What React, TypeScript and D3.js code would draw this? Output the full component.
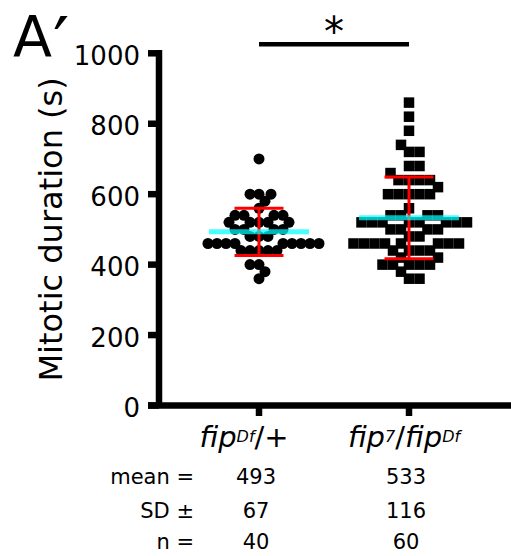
import React from "react";
import * as d3 from "d3";

// groups on the x axis
const categories = ["fipDf/+", "fip7/fipDf"];

// mitotic durations (s)
const fipDfHet = [
  360, 380, 400, 400, 440, 440, 440, 440, 440, 460, 460, 460, 460, 460, 460,
  460, 460, 460, 480, 480, 480, 500, 500, 500, 500, 520, 520, 520, 520, 520,
  540, 540, 540, 540, 560, 580, 600, 600, 600, 700,
];
const fip7FipDf = [
  360, 360, 380, 400, 400, 400, 400, 400, 420, 420, 440, 440, 440, 440, 460,
  460, 460, 460, 460, 460, 460, 460, 480, 480, 500, 500, 500, 500, 520, 520,
  520, 520, 520, 520, 520, 520, 540, 540, 540, 540, 560, 600, 600, 600, 600,
  600, 620, 640, 640, 640, 640, 660, 680, 680, 720, 720, 740, 780, 820, 860,
];

const means = [493, 533];
const sds = [67, 116];
const ns = [40, 60];
const yTicks = [0, 200, 400, 600, 800, 1000];
const statLabels = ["mean =", "SD \u00b1", "n ="];

// label pieces: [text, kind]
const labelParts: [string, string][][] = [
  [["fip", "i"], ["Df", "sup"], ["/+", "n"]],
  [["fip", "i"], ["7", "sup"], ["/", "n"], ["fip", "i"], ["Df", "sup"]],
];

const W = 511;
const H = 556;
const FONT = "DejaVu Sans";

// simple beeswarm: put each point as close to the centre as it can go
function swarm(values: number[], yScale: (v: number) => number, d: number) {
  const placed: { x: number; y: number }[] = [];
  return values.map((v) => {
    const yy = yScale(v);
    let off = 0;
    for (let k = 0; k < 400; k++) {
      const c = (k % 2 === 1 ? 1 : -1) * Math.ceil(k / 2) * 0.5;
      if (placed.every((p) => Math.hypot(p.x - c, p.y - yy) >= d)) {
        off = c;
        break;
      }
    }
    placed.push({ x: off, y: yy });
    return { v, dx: off, y: yy };
  });
}

export default function App() {
  const y = d3.scaleLinear().domain([0, 1000]).range([405.5, 53.3]);
  const x = d3.scalePoint<string>().domain(categories).range([259, 409]);
  const axisX = 159;
  const axisW = 6.5;

  const groups = [fipDfHet, fip7FipDf];
  const swarms = groups.map((vals, i) => swarm(vals, y, i === 0 ? 9 : 10.5));
  const labelShift = [-15, -5];

  return (
    <svg
      width={W}
      height={H}
      style={{ position: "absolute", left: 0, top: 0, background: "#fff" }}
      fontFamily={FONT}
    >
      {/* panel letter */}
      <text x={13} y={57} fontSize={57}>
        A
      </text>
      <text x={53} y={68} fontSize={72}>
        {"\u2032"}
      </text>

      {/* y axis */}
      <line x1={axisX} x2={axisX} y1={y(1000) - 3.3} y2={y(0)} stroke="#000" strokeWidth={axisW} />
      {yTicks.map((t) => (
        <g key={t}>
          <line x1={148} x2={axisX} y1={y(t)} y2={y(t)} stroke="#000" strokeWidth={axisW} />
          <text x={140} y={y(t)} dy="0.44em" textAnchor="end" fontSize={26}>
            {t}
          </text>
        </g>
      ))}
      <text
        transform={`translate(62,${(y(0) + y(1000)) / 2}) rotate(-90)`}
        textAnchor="middle"
        fontSize={32}
      >
        Mitotic duration (s)
      </text>

      {/* x axis */}
      <line x1={148} x2={W} y1={y(0)} y2={y(0)} stroke="#000" strokeWidth={axisW} />
      {categories.map((c) => (
        <line key={c} x1={x(c)} x2={x(c)} y1={y(0)} y2={416} stroke="#000" strokeWidth={axisW} />
      ))}

      {/* points */}
      {swarms[0].map((p, i) => (
        <circle key={"a" + i} cx={x(categories[0])! + p.dx} cy={p.y} r={5.5} fill="#000" />
      ))}
      {swarms[1].map((p, i) => (
        <rect
          key={"b" + i}
          x={x(categories[1])! + p.dx - 5.25}
          y={p.y - 5.25}
          width={10.5}
          height={10.5}
          fill="#000"
        />
      ))}

      {/* SD bars */}
      {categories.map((c, i) => {
        const cx = x(c)!;
        const lo = y(means[i] - sds[i]);
        const hi = y(means[i] + sds[i]);
        return (
          <g key={c} stroke="#ff0000" strokeWidth={3}>
            <line x1={cx} x2={cx} y1={hi} y2={lo} />
            <line x1={cx - 24.5} x2={cx + 24.5} y1={hi} y2={hi} />
            <line x1={cx - 24.5} x2={cx + 24.5} y1={lo} y2={lo} />
          </g>
        );
      })}

      {/* mean lines */}
      {categories.map((c, i) => (
        <line
          key={c}
          x1={x(c)! - 50}
          x2={x(c)! + 50}
          y1={y(means[i])}
          y2={y(means[i])}
          stroke="#00ffff"
          strokeOpacity={0.72}
          strokeWidth={5}
        />
      ))}

      {/* significance */}
      <line
        x1={x(categories[0])}
        x2={x(categories[1])}
        y1={44.3}
        y2={44.3}
        stroke="#000"
        strokeWidth={4.5}
      />
      <text
        x={(x(categories[0])! + x(categories[1])!) / 2}
        y={46}
        textAnchor="middle"
        fontSize={40}
      >
        *
      </text>

      {/* category labels */}
      {categories.map((c, i) => {
        let raised = false;
        return (
          <text key={c} x={x(c)! + labelShift[i]} y={447} textAnchor="middle" fontSize={29}>
            {labelParts[i].map(([t, kind], j) => {
              let dy = 0;
              if (kind === "sup" && !raised) {
                dy = -5;
                raised = true;
              } else if (kind !== "sup" && raised) {
                dy = 5;
                raised = false;
              }
              return (
                <tspan
                  key={j}
                  dy={dy}
                  fontSize={kind === "sup" ? 16 : 29}
                  fontStyle={kind === "n" ? "normal" : "italic"}
                >
                  {t}
                </tspan>
              );
            })}
          </text>
        );
      })}

      {/* stats table */}
      {statLabels.map((s, r) => {
        const rowY = [483.5, 517.5, 549][r];
        const vals = [means, sds, ns][r];
        return (
          <g key={s} fontSize={21}>
            <text x={194} y={rowY} textAnchor="end">
              {s}
            </text>
            {categories.map((c, i) => (
              <text key={c} x={x(c)! - 3} y={rowY} textAnchor="middle">
                {vals[i]}
              </text>
            ))}
          </g>
        );
      })}
    </svg>
  );
}
